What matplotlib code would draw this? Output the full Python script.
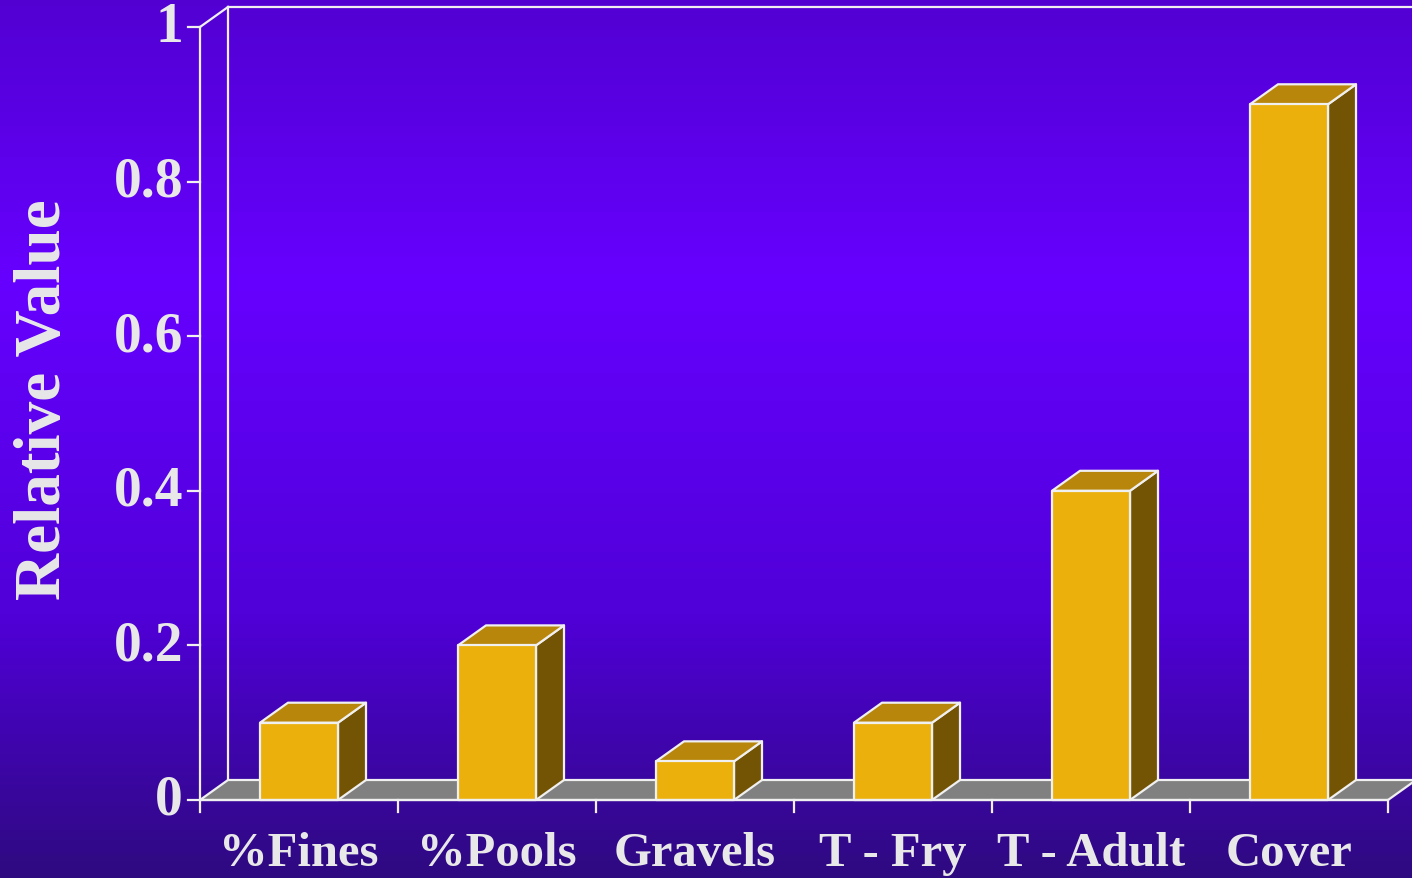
import matplotlib.pyplot as plt
import numpy as np
from matplotlib.patches import Polygon
from matplotlib.colors import LinearSegmentedColormap

categories = ["%Fines", "%Pools", "Gravels", "T - Fry", "T - Adult", "Cover"]
values = [0.1, 0.2, 0.05, 0.1, 0.4, 0.9]
yticks = [0, 0.2, 0.4, 0.6, 0.8, 1]
ytick_labels = ["0", "0.2", "0.4", "0.6", "0.8", "1"]

W, H = 1412, 879
fig = plt.figure(figsize=(W / 100, H / 100), dpi=100)

# background gradient
bg = fig.add_axes([0, 0, 1, 1])
cmap = LinearSegmentedColormap.from_list(
    "bg", [(0.0, "#5200d2"), (0.32, "#6600ff"), (0.7, "#5000d8"), (1.0, "#2e0a80")])
grad = np.linspace(0, 1, 256).reshape(-1, 1)
bg.imshow(grad, aspect="auto", cmap=cmap, extent=[0, 1, 0, 1], origin="upper")
bg.axis("off")

# main axes: front plane, x in category units, y in value
n = len(categories)
left, right, bottom, top = 200, 1388, 801, 28
ax = fig.add_axes([left / W, (H - bottom) / H, (right - left) / W, (bottom - top) / H])
ax.set_xlim(0, n)
ax.set_ylim(0, 1)
ax.axis("off")
ax.patch.set_alpha(0)

px = n / (right - left)      # one pixel in x data units
py = 1 / (bottom - top)      # one pixel in y data units
dx = 28 * px
dy = 20 * py
lc = "#f0f0f0"
lw = 1.6
tc = "#e8e8e8"

# floor
ax.add_patch(Polygon([(0, 0), (n, 0), (n + dx, dy), (dx, dy)], closed=True,
                     facecolor="#808080", edgecolor=lc, lw=lw, clip_on=False, zorder=2))
# back wall lines
ax.plot([dx, dx], [dy, 1 + dy], color=lc, lw=lw, clip_on=False, zorder=1)
ax.plot([dx, n + dx], [1 + dy, 1 + dy], color=lc, lw=lw, clip_on=False, zorder=1)
ax.plot([0, dx], [1, 1 + dy], color=lc, lw=lw, clip_on=False, zorder=1)
# front y axis
ax.plot([0, 0], [0, 1], color=lc, lw=lw, clip_on=False, zorder=5)
for t, lab in zip(yticks, ytick_labels):
    ax.plot([-12 * px, 0], [t, t], color=lc, lw=lw, clip_on=False, zorder=5)
    ax.text(-17 * px, t, lab, ha="right", va="center", color=tc,
            fontsize=40, fontweight="bold", family="Liberation Serif")
# x ticks
for i in range(n + 1):
    ax.plot([i, i], [0, -12 * py], color=lc, lw=lw, clip_on=False, zorder=5)

# bars
bw = 0.394
for i, v in enumerate(values):
    x0 = i + 0.5 - bw / 2
    x1 = x0 + bw
    front = [(x0, 0), (x1, 0), (x1, v), (x0, v)]
    side = [(x1, 0), (x1 + dx, dy), (x1 + dx, v + dy), (x1, v)]
    topf = [(x0, v), (x1, v), (x1 + dx, v + dy), (x0 + dx, v + dy)]
    for pts, fc in [(side, "#735405"), (topf, "#b8860b"), (front, "#ecb00c")]:
        ax.add_patch(Polygon(pts, closed=True, facecolor=fc, edgecolor=lc, lw=lw,
                             clip_on=False, zorder=3, joinstyle="round"))
    ax.text(i + 0.5, -31 * py, categories[i], ha="center", va="top", color=tc,
            fontsize=35, fontweight="bold", family="Liberation Serif")

ax.plot([0, n], [0, 0], color=lc, lw=lw, clip_on=False, zorder=4)

fig.text(44 / W, 1 - 400 / H, "Relative Value", rotation=90, ha="center", va="center",
         color=tc, fontsize=47, fontweight="bold", family="Liberation Serif")

fig.savefig("out.png", dpi=100)
